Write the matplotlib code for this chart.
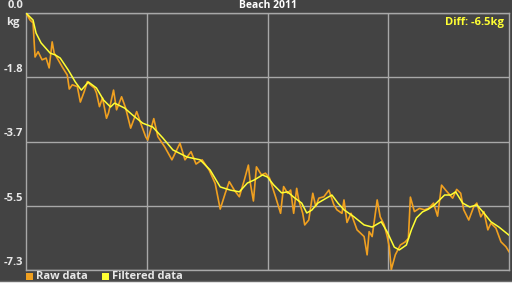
import matplotlib
matplotlib.use('Agg')
import matplotlib.pyplot as plt
from matplotlib.patches import Rectangle

plt.rcParams['font.family'] = ['Open Sans', 'DejaVu Sans']

# days since start, kg change
raw_days = [0, 2, 3.5, 4.5, 6, 8, 10, 11.5, 13, 14, 15.5, 18, 19.5, 20.5, 21.5, 23,
            25.5, 27, 29, 30.5, 32, 34, 35, 36.5, 38, 40, 41, 43.5, 45, 47.5, 49.5,
            52, 55, 57, 59.5, 60.5, 63.5, 65.5, 69, 72.5, 76.5, 79, 82, 84.5, 87.5,
            91, 94, 96.5, 99, 101, 103.5, 106, 108.5, 110.5, 111.5, 113, 114.5, 117,
            119, 121, 124, 126.5, 128, 130, 131.5, 133, 134.5, 135.5, 137.5, 138.5,
            140.5, 142.5, 144, 145.5, 148, 150.5, 153, 154.5, 157, 158, 159.5, 161.5,
            164.5, 168, 169.5, 170.5, 172, 174.5, 176, 178, 179.5, 180.5, 181.5, 183.5,
            186, 188.5, 190, 191, 193, 195.5, 198, 200, 202.5, 204.5, 206.5, 208.5,
            212, 214, 216, 217.5, 220, 222.5, 224, 226, 227.5, 229.5, 231, 233.5, 236,
            238.5, 240]
raw_kg = [0.0, -0.20, -0.28, -1.25, -1.10, -1.33, -1.28, -1.56, -0.82, -1.14, -1.28,
          -1.53, -1.67, -1.76, -2.16, -2.04, -2.09, -2.53, -2.22, -1.95, -2.04, -2.13,
          -2.27, -2.66, -2.41, -2.99, -2.84, -2.19, -2.75, -2.38, -2.70, -3.27, -2.80,
          -3.13, -3.52, -3.61, -3.00, -3.51, -3.81, -4.17, -3.70, -4.17, -3.94, -4.29,
          -4.17, -4.46, -4.84, -5.57, -5.12, -4.79, -5.03, -5.22, -4.74, -4.32, -4.84,
          -5.34, -4.37, -4.60, -4.55, -4.69, -5.22, -5.69, -4.93, -5.12, -5.03, -5.69,
          -4.98, -5.31, -5.69, -6.02, -5.88, -5.12, -5.50, -5.26, -5.22, -5.03, -5.45,
          -5.59, -5.69, -5.31, -5.95, -5.69, -6.16, -6.35, -6.87, -6.21, -6.35, -5.31,
          -5.79, -6.02, -6.35, -6.64, -7.29, -6.87, -6.59, -6.50, -6.40, -5.23, -5.64,
          -5.55, -5.59, -5.55, -5.40, -5.77, -4.89, -5.03, -5.26, -5.01, -5.12, -5.59,
          -5.88, -5.50, -5.40, -5.79, -5.64, -6.16, -5.97, -6.11, -6.50, -6.64, -6.78]

filt_days = [0, 3.5, 5, 7.5, 12, 14.5, 17, 21, 24.5, 27.5, 31, 35, 38.5, 42, 44, 49,
             53, 58, 63, 68, 73, 80, 86.5, 91.5, 96.5, 101.5, 106, 110, 113.5, 117.5,
             120, 123, 127, 130, 133, 137, 139.5, 142, 145, 149.5, 152, 155, 158, 163,
             168, 172, 176.5, 179.5, 183, 185.5, 189, 191.5, 194, 197, 200, 203, 208,
             211, 213.5, 217, 220.5, 224, 227.5, 231, 235, 240]
filt_kg = [0.0, -0.20, -0.57, -0.85, -1.14, -1.19, -1.28, -1.62, -1.96, -2.19, -1.96,
           -2.13, -2.47, -2.67, -2.56, -2.70, -2.90, -3.13, -3.24, -3.55, -3.89, -4.09,
           -4.17, -4.46, -4.94, -5.03, -5.08, -4.83, -4.74, -4.60, -4.66, -4.88, -5.11,
           -5.08, -5.23, -5.40, -5.68, -5.60, -5.40, -5.25, -5.17, -5.40, -5.59, -5.79,
           -6.02, -6.08, -5.93, -6.22, -6.65, -6.73, -6.59, -6.16, -5.82, -5.65, -5.57,
           -5.45, -5.17, -5.17, -5.08, -5.40, -5.51, -5.45, -5.68, -5.93, -6.08, -6.31]

y_ticks = [0.0, -1.825, -3.65, -5.475, -7.3]
y_labels = ['0.0', '-1.8', '-3.7', '-5.5', '-7.3']
x_ticks = [60, 120, 180]

bg = '#434343'
grid = '#a8a8a8'
raw_col = '#f0a020'
filt_col = '#ffff33'

fig = plt.figure(figsize=(5.12, 3.07), dpi=100, facecolor='white')
fig.patches.append(Rectangle((0, 25 / 307), 1, 1, transform=fig.transFigure,
                             facecolor=bg, edgecolor='none', zorder=-10))
fig.lines.append(plt.Line2D([0, 1], [26 / 307, 26 / 307], transform=fig.transFigure,
                            color='#6a6a6a', lw=1, zorder=-5))

ax = fig.add_axes([26 / 512, 1 - 270 / 307, 483 / 512, 257 / 307])
ax.set_zorder(2)
ax.set_facecolor(bg)
ax.plot(raw_days, raw_kg, color=raw_col, lw=1.2, zorder=3)
ax.plot(filt_days, filt_kg, color=filt_col, lw=1.1, zorder=4)
ax.set_xlim(0, 240)
ax.set_ylim(-7.3, 0)
ax.set_xticks(x_ticks)
ax.set_yticks(y_ticks)
ax.set_xticklabels([])
ax.set_yticklabels([])
ax.tick_params(length=0)
ax.grid(True, color=grid, lw=1)
for s in ax.spines.values():
    s.set_color(grid)
    s.set_linewidth(1)

lab = dict(color='#e8e8e8', fontsize=8, fontweight='bold')
for v, t in zip(y_ticks, y_labels):
    ax.text(-0.006, v + 0.06, t, transform=ax.get_yaxis_transform(),
            ha='right', va='bottom', clip_on=False, **lab)
fig.text(20 / 512, 1 - 22 / 307, 'kg', ha='right', va='center', zorder=3, **lab)

fig.text(268 / 512, 1 - 5 / 307, 'Beach 2011', ha='center', va='center',
         color='white', fontsize=7.5, fontweight='bold', zorder=3)
fig.text(504 / 512, 1 - 22 / 307, 'Diff: -6.5kg', ha='right', va='center',
         color=filt_col, fontsize=8, fontweight='bold', zorder=3)

# legend
for x0, col, txt in [(26, raw_col, 'Raw data'), (102, filt_col, 'Filtered data')]:
    fig.patches.append(Rectangle((x0 / 512, 1 - 280 / 307), 7 / 512, 7 / 307,
                                 transform=fig.transFigure, facecolor=col,
                                 edgecolor='none', zorder=3))
    fig.text((x0 + 10) / 512, 1 - 276.5 / 307, txt, ha='left', va='center',
             zorder=3, **lab)

fig.savefig('out.png', dpi=100, facecolor='white')
